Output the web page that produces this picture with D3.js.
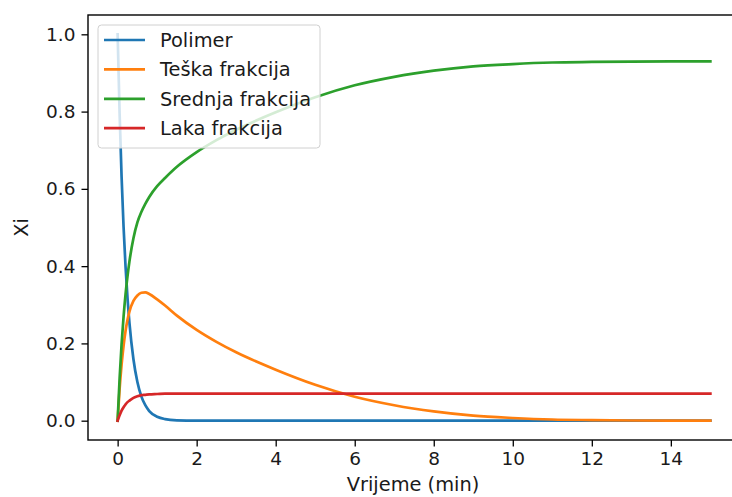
<!DOCTYPE html>
<html>
<head>
<meta charset="utf-8">
<script src="https://cdn.jsdelivr.net/npm/d3@7"></script>
<style>
  html, body { margin: 0; padding: 0; background: #fff; overflow: hidden; }
  svg { display: block; }
  text { font-family: "DejaVu Sans", sans-serif; fill: #1a1a1a; }
</style>
</head>
<body>
<svg id="chart" width="732" height="497"></svg>
<script>
// ---- data ----
const time     = [0, 0.05, 0.1, 0.15, 0.2, 0.25, 0.3, 0.4, 0.5, 0.6, 0.7, 0.8, 1.0, 1.2, 1.5, 2, 2.5, 3, 4, 5, 6, 7, 8, 9, 10, 11, 12, 13, 14, 15];
const polimer  = [1, 0.795, 0.631, 0.502, 0.399, 0.317, 0.252, 0.159, 0.100, 0.063, 0.040, 0.025, 0.010, 0.004, 0.001, 0, 0, 0, 0, 0, 0, 0, 0, 0, 0, 0, 0, 0, 0, 0];
const teska    = [0, 0.082, 0.145, 0.194, 0.232, 0.261, 0.283, 0.310, 0.324, 0.331, 0.332, 0.328, 0.314, 0.298, 0.272, 0.235, 0.204, 0.177, 0.132, 0.093, 0.062, 0.040, 0.024, 0.013, 0.007, 0.003, 0.0015, 0.0005, 0, 0];
const srednja  = [0, 0.109, 0.198, 0.269, 0.327, 0.374, 0.413, 0.472, 0.513, 0.540, 0.561, 0.579, 0.607, 0.628, 0.657, 0.695, 0.726, 0.753, 0.798, 0.837, 0.868, 0.890, 0.906, 0.917, 0.923, 0.927, 0.9285, 0.9295, 0.930, 0.930];
const laka     = [0, 0.014, 0.026, 0.035, 0.042, 0.048, 0.052, 0.059, 0.063, 0.066, 0.067, 0.068, 0.069, 0.070, 0.070, 0.070, 0.070, 0.070, 0.070, 0.070, 0.070, 0.070, 0.070, 0.070, 0.070, 0.070, 0.070, 0.070, 0.070, 0.070];
const seriesNames  = ["Polimer", "Teška frakcija", "Srednja frakcija", "Laka frakcija"];
const seriesColors = ["#1f77b4", "#ff7f0e", "#2ca02c", "#d62728"];
const xTicks = [0, 2, 4, 6, 8, 10, 12, 14];
const yTicks = [0.0, 0.2, 0.4, 0.6, 0.8, 1.0];
const xLabel = "Vrijeme (min)";
const yLabel = "Xi";

// ---- layout ----
const mLeft = 88, mTop = 15, mRight = 740, mBottom = 440;
const svg = d3.select("#chart");

const x = d3.scaleLinear().domain([-0.75, 15.75]).range([mLeft, mRight]);
const y = d3.scaleLinear().domain([-0.05, 1.05]).range([mBottom, mTop]);

svg.append("defs").append("clipPath").attr("id", "clip")
  .append("rect").attr("x", mLeft).attr("y", mTop).attr("width", mRight - mLeft).attr("height", mBottom - mTop);

const allSeries = [polimer, teska, srednja, laka];
const line = d3.line()
  .x((d, i) => x(time[i]))
  .y(d => y(d))
  .curve(d3.curveMonotoneX);

const plot = svg.append("g").attr("clip-path", "url(#clip)");
allSeries.forEach((vals, k) => {
  plot.append("path")
    .datum(vals)
    .attr("fill", "none")
    .attr("stroke", seriesColors[k])
    .attr("stroke-width", 2.7)
    .attr("stroke-linejoin", "round")
    .attr("stroke-linecap", "square")
    .attr("d", line);
});

// ---- axes ----
const tickFont = 18.5, labelFont = 19.4;
const xAxis = d3.axisBottom(x).tickValues(xTicks).tickFormat(d3.format("d"))
  .tickSize(6.5).tickPadding(5);
const yAxis = d3.axisLeft(y).tickValues(yTicks).tickFormat(d3.format(".1f"))
  .tickSize(6.5).tickPadding(6);

const gx = svg.append("g").attr("transform", `translate(0,${mBottom})`).call(xAxis);
const gy = svg.append("g").attr("transform", `translate(${mLeft},0)`).call(yAxis);
[gx, gy].forEach(g => {
  g.select(".domain").remove();
  g.selectAll(".tick line").attr("stroke", "#000").attr("stroke-width", 1.3);
  g.selectAll(".tick text").style("font-size", tickFont + "px").style("font-family", "DejaVu Sans").attr("fill", "#1a1a1a");
});

// spines
const spine = svg.append("g").attr("stroke", "#000").attr("stroke-width", 1.4).attr("fill", "none");
spine.append("rect").attr("x", mLeft).attr("y", mTop).attr("width", mRight - mLeft).attr("height", mBottom - mTop);

// axis labels
svg.append("text").attr("x", 413).attr("y", 491)
  .attr("text-anchor", "middle").style("font-size", labelFont + "px").text(xLabel);
svg.append("text").attr("transform", `translate(28,${(mTop + mBottom) / 2}) rotate(-90)`)
  .attr("text-anchor", "middle").style("font-size", labelFont + "px").text(yLabel);

// ---- legend ----
const lg = svg.append("g");
lg.append("rect").attr("x", 98).attr("y", 25).attr("width", 222).attr("height", 123)
  .attr("rx", 3.5).attr("fill", "#fff").attr("fill-opacity", 0.8)
  .attr("stroke", "#d0d0d0").attr("stroke-width", 1);
seriesNames.forEach((name, k) => {
  const cy = 40 + k * 29.4;
  lg.append("line").attr("x1", 104).attr("x2", 145).attr("y1", cy).attr("y2", cy)
    .attr("stroke", seriesColors[k]).attr("stroke-width", 2.7);
  lg.append("text").attr("x", 160).attr("y", cy + 7).style("font-size", labelFont + "px").text(name);
});
</script>
</body>
</html>
